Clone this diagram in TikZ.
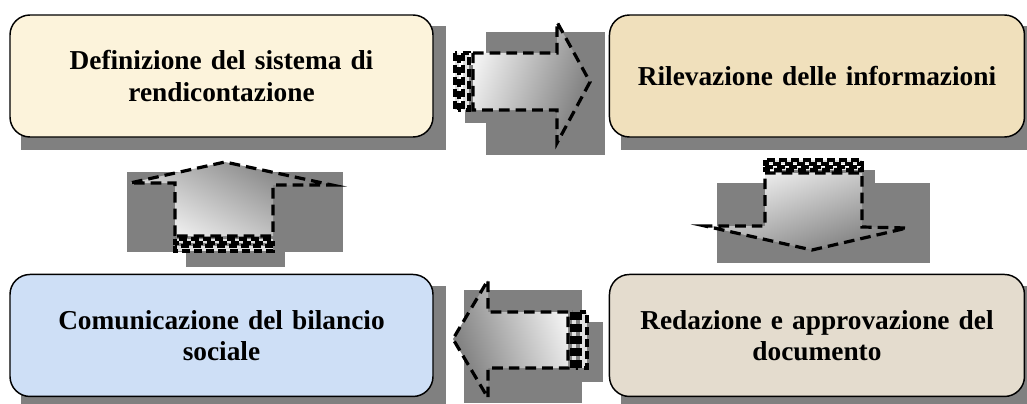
\documentclass[tikz,border=0pt]{standalone}
\usepackage{fontspec}
\setmainfont{Liberation Serif}
\usetikzlibrary{positioning,backgrounds}

\begin{document}
\begin{tikzpicture}[x=0.75pt, y=-0.75pt,
    node distance=102pt and 131.25pt,
    stepbox/.style={draw, line width=1.1pt, rounded corners=15pt,
      minimum height=91.5pt, text width=300pt, align=center,
      font=\fontsize{20.5}{23.5}\selectfont\bfseries},
    shade box/.style={fill=black!50, draw=none},
    blockarrow/.style={draw, line width=2.4pt, dash pattern=on 8pt off 4.5pt,
      top color=black!5, bottom color=black!52, shading angle=#1},
    stripe/.style={draw, line width=2.6pt, dash pattern=on 6pt off 3pt,
      fill=black!12}]
  \clip (0,0) rectangle (1027,403);

  \node (defin) [stepbox, fill={rgb,255:red,252;green,243;blue,219},
                 minimum width=317.25pt] at (221.5,76)
    {Definizione del sistema di\\ rendicontazione};
  \node (rilev) [stepbox, fill={rgb,255:red,240;green,224;blue,188},
                 minimum width=311.25pt, right=of defin]
    {Rilevazione delle informazioni};
  \node (comun) [stepbox, fill={rgb,255:red,206;green,223;blue,246},
                 minimum width=317.25pt, below=of defin]
    {Comunicazione del bilancio\\ sociale};
  \node (redaz) [stepbox, fill={rgb,255:red,228;green,220;blue,206},
                 minimum width=311.25pt, below=of rilev]
    {Redazione e approvazione del\\ documento};

  \begin{scope}[on background layer]
    \foreach \b in {defin,rilev,comun,redaz}
      \fill[shade box] ([shift={(12,12)}]\b.north west)
        rectangle ([shift={(12,12)}]\b.south east);
    \fill[shade box] (465,65) rectangle (486,123);
    \fill[shade box] (486,32) rectangle (605,155);
    \fill[shade box] (127,172) rectangle (343,252);
    \fill[shade box] (186,252) rectangle (285,267);
    \fill[shade box] (775,170) rectangle (875,183);
    \fill[shade box] (717,183) rectangle (930,263);
    \fill[shade box] (464,290) rectangle (582,403);
    \fill[shade box] (582,322) rectangle (603,382);
  \end{scope}

  % defin -> rilev
  \draw[stripe] (455,53) rectangle (459,110);
  \draw[stripe] (463,53) rectangle (469,110);
  \draw[blockarrow=70] (473,53) -- (557,53) -- (557,22) -- (590,82)
    -- (557,143) -- (557,110) -- (473,110) -- cycle;

  % rilev -> redaz
  \draw[stripe] (765,160) rectangle (862,164);
  \draw[stripe] (765,167) rectangle (862,170);
  \draw[blockarrow=20] (765,173) -- (862,173) -- (862,227) -- (907,228)
    -- (812,250) -- (705,226) -- (765,226) -- cycle;

  % redaz -> comun
  \draw[stripe] (580,312) rectangle (587,368);
  \draw[stripe] (572,312) rectangle (576,368);
  \draw[blockarrow=290] (568,312) -- (488,312) -- (488,280) -- (453,339)
    -- (488,398) -- (488,368) -- (568,368) -- cycle;

  % comun -> defin
  \draw[stripe] (175,246) rectangle (273,251);
  \draw[stripe] (175,239) rectangle (273,243);
  \draw[blockarrow=150] (175,236) -- (175,183) -- (130,183) -- (225,162)
    -- (332,185) -- (273,185) -- (273,236) -- cycle;
\end{tikzpicture}
\end{document}
